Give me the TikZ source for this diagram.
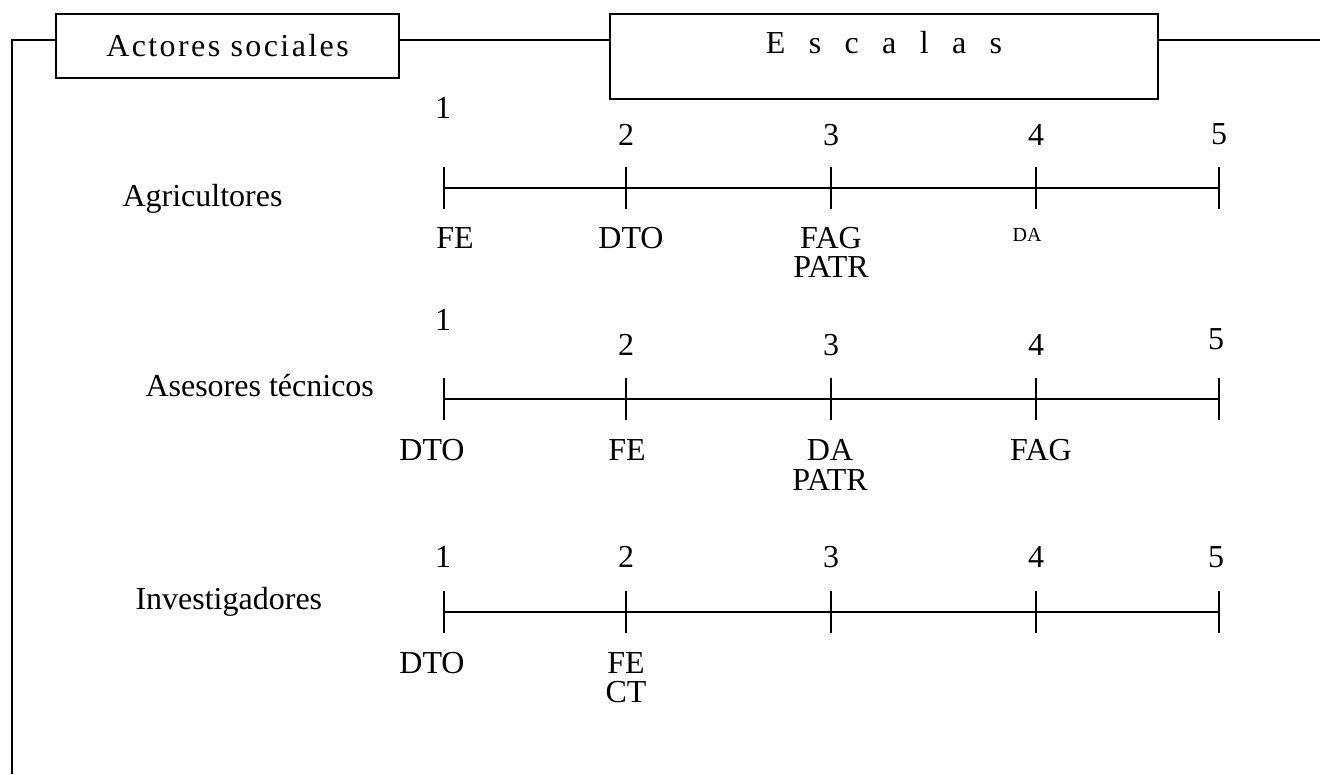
\documentclass[tikz,border=0pt]{standalone}
\usepackage{fontspec}
\setmainfont{Liberation Serif}

\begin{document}
\begin{tikzpicture}[x=0.375pt,y=-0.375pt,
  every node/.style={font=\fontsize{12}{14}\selectfont, inner sep=0pt},
  titlebox/.style={draw, line width=0.75pt},
  axis/.style={line width=0.75pt},
  tiny/.style={font=\fontsize{7.5}{9}\selectfont}]
\useasboundingbox (0,0) rectangle (1320,774);

\node[titlebox, minimum width=128.6pt, minimum height=24pt] (actores) at (227.5,46)
  {\addfontfeatures{LetterSpace=7.5}Actores sociales};
\node[titlebox, minimum width=205.5pt, minimum height=31.9pt, text height=8pt, text depth=10.2pt] (escalas) at (884,56.5)
  {\addfontfeatures{LetterSpace=48}E s c a l a s};

\coordinate (corner) at (12,40);
\coordinate (bottom) at (12,774);
\coordinate (rightend) at (1320,40);
\draw[axis] (bottom) -- (corner) -- (actores.west |- corner);
\draw[axis] (actores.east |- corner) -- (escalas.west |- corner);
\draw[axis] (escalas.east |- corner) -- (rightend);

\foreach \r/\y in {agr/188, ase/399, inv/612} {
  \foreach \i/\x in {1/444,2/626,3/831,4/1036,5/1219}
    \coordinate (\r\i) at (\x,\y);
  \draw[axis] (\r1) -- (\r5);
  \foreach \i in {1,...,5}
    \draw[axis] (\r\i) ++(0,-21) -- ++(0,42);
}

\node[anchor=base west] (agricultores) at (122,206) {Agricultores};
\node (agrn1) at (443,108) {1};
\node (agrn2) at (626,135) {2};
\node (agrn3) at (831,135) {3};
\node (agrn4) at (1036,135) {4};
\node (agrn5) at (1219,134) {5};
\node (agrFE) at (455,238) {FE};
\node (agrDTO) at (631,238) {DTO};
\node (agrFAG) at (831,238) {FAG};
\node (agrPATR) at (831,267) {PATR};
\node[tiny] (agrDA) at (1027,235) {DA};

\node[anchor=base west] (asesores) at (145,396) {Asesores técnicos};
\node (asen1) at (443,320) {1};
\node (asen2) at (626,345) {2};
\node (asen3) at (831,345) {3};
\node (asen4) at (1036,345) {4};
\node (asen5) at (1216,339) {5};
\node (aseDTO) at (432,450) {DTO};
\node (aseFE) at (627,450) {FE};
\node (aseDA) at (830,450) {DA};
\node (asePATR) at (830,480) {PATR};
\node (aseFAG) at (1041,450) {FAG};

\node[anchor=base west] (investigadores) at (135,609) {Investigadores};
\node (invn1) at (443,557) {1};
\node (invn2) at (626,557) {2};
\node (invn3) at (831,557) {3};
\node (invn4) at (1036,557) {4};
\node (invn5) at (1216,557) {5};
\node (invDTO) at (432,663) {DTO};
\node (invFE) at (626,663) {FE};
\node (invCT) at (626,692) {CT};
\end{tikzpicture}
\end{document}
